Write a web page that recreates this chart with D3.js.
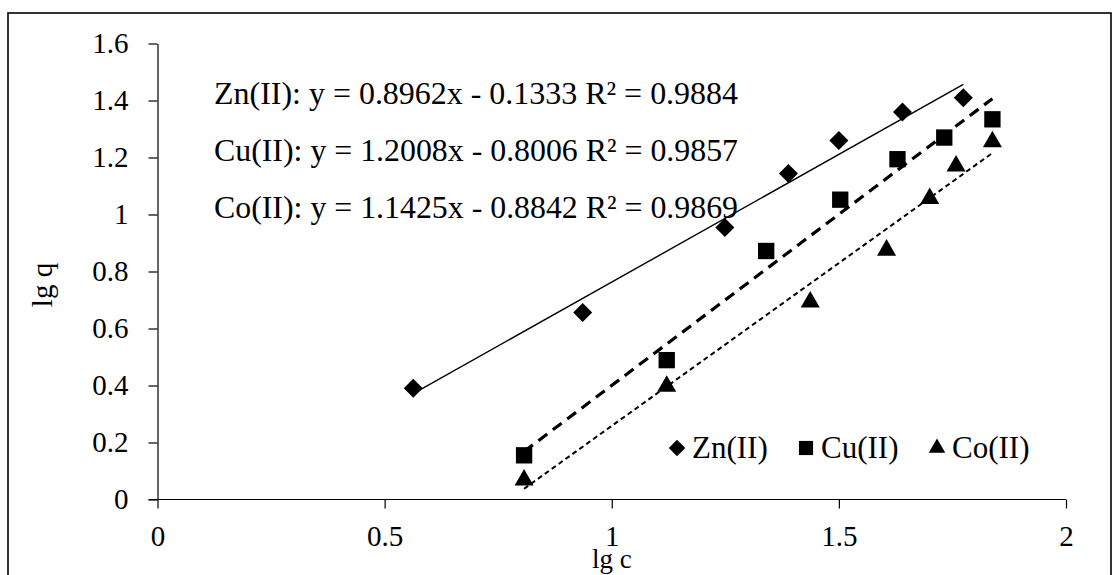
<!DOCTYPE html>
<html>
<head>
<meta charset="utf-8">
<script src="https://cdn.jsdelivr.net/npm/d3@7"></script>
<style>
body{margin:0;background:#fff;}
text{font-family:"Liberation Serif","Times New Roman",serif;fill:#000;}
</style>
</head>
<body>
<div id="chart"></div>
<script>
var w=1120;
var h=575;

// series: lg c / lg q
var seriesNames=["Zn(II)","Cu(II)","Co(II)"];
var znX=[0.563,0.936,1.249,1.389,1.500,1.640,1.774];
var znY=[0.390,0.656,0.954,1.144,1.260,1.360,1.410];
var cuX=[0.807,1.121,1.340,1.503,1.629,1.732,1.838];
var cuY=[0.155,0.489,0.872,1.052,1.194,1.270,1.334];
var coX=[0.807,1.121,1.437,1.605,1.700,1.758,1.838];
var coY=[0.068,0.397,0.693,0.875,1.056,1.170,1.255];

// linear trendlines
var slopes=[0.8962,1.2008,1.1425];
var intercepts=[-0.1333,-0.8006,-0.8842];
var r2=["0.9884","0.9857","0.9869"];

var xTicks=[0,0.5,1,1.5,2];
var yTicks=[0,0.2,0.4,0.6,0.8,1,1.2,1.4,1.6];

var svg=d3.select("#chart").append("svg")
          .attr("width",w)
          .attr("height",h);

svg.append("rect")
   .attr("x",8).attr("y",13)
   .attr("width",1103).attr("height",600)
   .attr("fill","none")
   .attr("stroke","#000")
   .attr("stroke-width",1.6);

var x=d3.scaleLinear().domain([0,2]).range([157.5,1066]);
var y=d3.scaleLinear().domain([0,1.6]).range([499.5,43.5]);

var xAxis=svg.append("g")
   .attr("transform","translate(0,"+y(0)+")")
   .call(d3.axisBottom(x).tickValues(xTicks).tickFormat(d3.format("")).tickSizeInner(9).tickSizeOuter(0).tickPadding(17));
xAxis.select(".domain").attr("d","M"+(x(0)-9)+",0H"+x(2));

var yAxis=svg.append("g")
   .attr("transform","translate("+x(0)+",0)")
   .call(d3.axisLeft(y).tickValues(yTicks).tickFormat(d3.format("")).tickSizeInner(9).tickSizeOuter(0).tickPadding(20));

svg.selectAll(".tick text").attr("font-family","Liberation Serif").attr("font-size",29).attr("fill","#000");
svg.selectAll(".domain, .tick line").attr("stroke","#000").attr("stroke-width",1.2);
xAxis.selectAll(".tick text").attr("dy","0.71em");

svg.append("text")
   .attr("x",(x(0)+x(2))/2).attr("y",568)
   .attr("text-anchor","middle").attr("font-size",27)
   .text("lg c");

svg.append("text")
   .attr("transform","translate(52,285) rotate(-90)")
   .attr("text-anchor","middle").attr("font-size",29)
   .text("lg q");

var series=[
  {name:seriesNames[0],xs:znX,ys:znY,shape:d3.symbolDiamond2,size:230,dash:null,sw:1.4},
  {name:seriesNames[1],xs:cuX,ys:cuY,shape:d3.symbolSquare2,size:340,dash:"11,7",sw:3.2},
  {name:seriesNames[2],xs:coX,ys:coY,shape:d3.symbolTriangle2,size:260,dash:"5,3.5",sw:2}
];

series.forEach(function(s,i){
  var x0=d3.min(s.xs),x1=d3.max(s.xs);
  svg.append("line")
     .attr("x1",x(x0)).attr("y1",y(slopes[i]*x0+intercepts[i]))
     .attr("x2",x(x1)).attr("y2",y(slopes[i]*x1+intercepts[i]))
     .attr("stroke","#000")
     .attr("stroke-width",s.sw)
     .attr("stroke-dasharray",s.dash);
});

series.forEach(function(s){
  svg.append("g").selectAll("path")
     .data(s.xs.map(function(d,j){return [d,s.ys[j]];}))
     .enter().append("path")
     .attr("d",d3.symbol().type(s.shape).size(s.size))
     .attr("transform",function(d){return "translate("+x(d[0])+","+y(d[1])+")";})
     .attr("fill","#000");
});

// fitted equations
series.forEach(function(s,i){
  var b=intercepts[i];
  svg.append("text")
     .attr("x",214).attr("y",104+i*57)
     .attr("font-size",32)
     .attr("textLength",524)
     .attr("lengthAdjust","spacingAndGlyphs")
     .text(s.name+": y = "+slopes[i].toFixed(4)+"x "+(b<0?"- ":"+ ")+Math.abs(b).toFixed(4)+" R\u00b2 = "+r2[i]);
});

// legend
var legX=[677,806,937];
var legend=svg.append("g");
series.forEach(function(s,i){
  legend.append("path")
     .attr("d",d3.symbol().type(s.shape).size(s.size*0.75))
     .attr("transform","translate("+legX[i]+",448)")
     .attr("fill","#000");
  legend.append("text")
     .attr("x",legX[i]+15).attr("y",458)
     .attr("font-size",31)
     .text(s.name);
});
</script>
</body>
</html>
